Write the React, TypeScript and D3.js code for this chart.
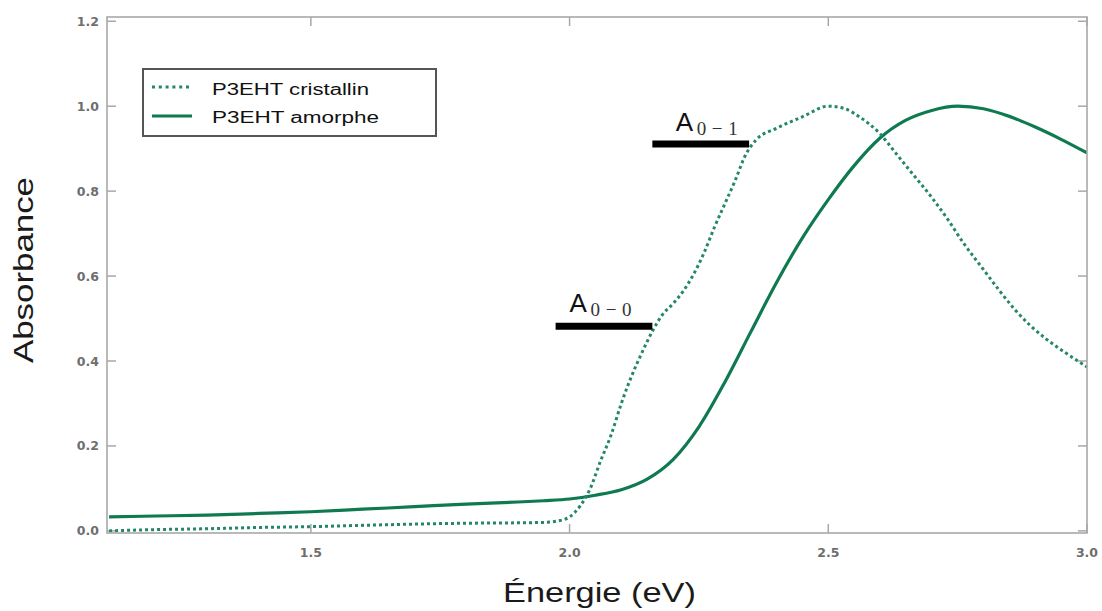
import React from "react";
import * as d3 from "d3";

// Photon energy (eV) and normalised absorbance, P3EHT amorphous film
const amorpheEnergy = [1.11, 1.2, 1.3, 1.4, 1.5, 1.6, 1.7, 1.8, 1.9, 1.95, 2.0, 2.05, 2.1, 2.15, 2.2, 2.25, 2.3, 2.35, 2.4, 2.45, 2.5, 2.55, 2.6, 2.65, 2.7, 2.75, 2.8, 2.85, 2.9, 2.95, 3.0];
const amorpheAbs = [0.033, 0.035, 0.037, 0.041, 0.045, 0.051, 0.057, 0.063, 0.068, 0.071, 0.075, 0.084, 0.097, 0.122, 0.168, 0.245, 0.35, 0.468, 0.585, 0.69, 0.78, 0.86, 0.925, 0.967, 0.99, 1.0, 0.994, 0.976, 0.951, 0.922, 0.89];

// Photon energy (eV) and normalised absorbance, P3EHT crystalline film
const cristallinEnergy = [1.11, 1.2, 1.3, 1.4, 1.5, 1.6, 1.7, 1.8, 1.9, 1.95, 1.98, 2.0, 2.02, 2.04, 2.06, 2.08, 2.1, 2.12, 2.14, 2.16, 2.18, 2.2, 2.22, 2.24, 2.26, 2.28, 2.3, 2.32, 2.34, 2.36, 2.4, 2.45, 2.5, 2.53, 2.56, 2.6, 2.63, 2.66, 2.7, 2.73, 2.76, 2.8, 2.83, 2.86, 2.89, 2.92, 2.96, 3.0];
const cristallinAbs = [0.0, 0.003, 0.005, 0.008, 0.01, 0.013, 0.016, 0.018, 0.019, 0.02, 0.024, 0.033, 0.058, 0.1, 0.165, 0.225, 0.3, 0.365, 0.42, 0.47, 0.51, 0.535, 0.565, 0.605, 0.655, 0.715, 0.77, 0.825, 0.885, 0.92, 0.948, 0.975, 1.0, 0.995, 0.975, 0.935, 0.89, 0.845, 0.785, 0.735, 0.68, 0.615, 0.567, 0.522, 0.484, 0.453, 0.418, 0.386];

const xTicks = [1.5, 2.0, 2.5, 3.0];
const yTicks = [0.0, 0.2, 0.4, 0.6, 0.8, 1.0, 1.2];

const seriesNames = ["P3EHT cristallin", "P3EHT amorphe"];

// Vibronic transition markers: label subscript, bar start/end energy, level
const transitionLabels = ["0\u22120", "0\u22121"];
const transitionStart = [1.973, 2.16];
const transitionEnd = [2.16, 2.347];
const transitionLevel = [0.482, 0.911];
const transitionTextX = [2.0, 2.205];
const transitionTextY = [0.515, 0.941];

const W = 1102;
const H = 611;
const plot = { left: 107, right: 1087, top: 17, bottom: 533 };

const solidColor = "#0f7a4f";
const dottedColor = "#24876a";
const frameColor = "#a8a8a8";
const tickTextColor = "#6e6e6e";

export default function App() {
  const x = d3.scaleLinear().domain([1.106, 3.0]).range([plot.left, plot.right]);
  const y = d3.scaleLinear().domain([-0.005, 1.21]).range([plot.bottom, plot.top]);

  const line = d3
    .line<[number, number]>()
    .x((d) => x(d[0]))
    .y((d) => y(d[1]))
    .curve(d3.curveMonotoneX);

  const amorphe = amorpheEnergy.map((e, i) => [e, amorpheAbs[i]] as [number, number]);
  const cristallin = cristallinEnergy.map((e, i) => [e, cristallinAbs[i]] as [number, number]);

  const tickLen = 9;

  return (
    <svg
      width={W}
      height={H}
      viewBox={`0 0 ${W} ${H}`}
      style={{ position: "absolute", left: 0, top: 0, background: "#fff" }}
    >
      <rect x={0} y={0} width={W} height={H} fill="#fff" />

      <defs>
        <clipPath id="plot-area">
          <rect x={plot.left} y={plot.top} width={plot.right - plot.left} height={plot.bottom - plot.top} />
        </clipPath>
      </defs>

      {/* ticks on all four sides, pointing inward */}
      <g stroke={frameColor} strokeWidth={1.5}>
        {xTicks.map((t) => (
          <g key={`xt${t}`}>
            <line x1={x(t)} x2={x(t)} y1={plot.bottom} y2={plot.bottom - tickLen} />
            <line x1={x(t)} x2={x(t)} y1={plot.top} y2={plot.top + tickLen} />
          </g>
        ))}
        {yTicks.map((t) => (
          <g key={`yt${t}`}>
            <line x1={plot.left} x2={plot.left + tickLen} y1={y(t)} y2={y(t)} />
            <line x1={plot.right} x2={plot.right - tickLen} y1={y(t)} y2={y(t)} />
          </g>
        ))}
      </g>

      {/* curves */}
      <g clipPath="url(#plot-area)" fill="none">
        <path d={line(amorphe) ?? ""} stroke={solidColor} strokeWidth={3.2} strokeLinejoin="round" />
        <path d={line(cristallin) ?? ""} stroke={dottedColor} strokeWidth={3} strokeDasharray="3 3" />
      </g>

      {/* frame */}
      <rect
        x={plot.left}
        y={plot.top}
        width={plot.right - plot.left}
        height={plot.bottom - plot.top}
        fill="none"
        stroke={frameColor}
        strokeWidth={1.6}
      />

      {/* tick labels */}
      <g fontFamily="DejaVu Sans, sans-serif" fontSize={12.5} fontWeight="bold" fill={tickTextColor}>
        {xTicks.map((t) => (
          <text key={`xl${t}`} x={x(t)} y={557} textAnchor="middle">
            {t.toFixed(1)}
          </text>
        ))}
        {yTicks.map((t) => (
          <text key={`yl${t}`} x={99} y={y(t)} dy="0.36em" textAnchor="end">
            {t.toFixed(1)}
          </text>
        ))}
      </g>

      {/* axis titles */}
      <text
        x={503}
        y={602}
        fontFamily="Liberation Sans, Arial, sans-serif"
        fontSize={27}
        fill="#1a1a1a"
        textLength={193}
        lengthAdjust="spacingAndGlyphs"
      >
        Énergie (eV)
      </text>
      <text
        transform={`translate(33, 363) rotate(-90)`}
        fontFamily="Liberation Sans, Arial, sans-serif"
        fontSize={27}
        fill="#1a1a1a"
        textLength={186}
        lengthAdjust="spacingAndGlyphs"
      >
        Absorbance
      </text>

      {/* transition markers */}
      {transitionLabels.map((lab, i) => (
        <g key={lab}>
          <line
            x1={x(transitionStart[i])}
            x2={x(transitionEnd[i])}
            y1={y(transitionLevel[i])}
            y2={y(transitionLevel[i])}
            stroke="#000"
            strokeWidth={7}
          />
          <text
            x={x(transitionTextX[i])}
            y={y(transitionTextY[i])}
            fontFamily="Liberation Sans, Arial, sans-serif"
            fontSize={26}
            fill="#111"
          >
            A
          </text>
          <text
            x={x(transitionTextX[i]) + 21}
            y={y(transitionTextY[i]) + 4}
            fontFamily="Liberation Serif, DejaVu Serif, serif"
            fontSize={19}
            fill="#333"
            textLength={41}
            lengthAdjust="spacing"
          >
            {lab}
          </text>
        </g>
      ))}

      {/* legend */}
      <g>
        <rect x={143} y={69} width={293} height={67} fill="#fff" stroke="#555" strokeWidth={2} />
        <line x1={152} x2={192} y1={87} y2={87} stroke={dottedColor} strokeWidth={3} strokeDasharray="3 3.8" />
        <line x1={152} x2={192} y1={116} y2={116} stroke={solidColor} strokeWidth={3.2} />
        <text
          x={212}
          y={95}
          fontFamily="Liberation Sans, Arial, sans-serif"
          fontSize={16}
          fill="#111"
          textLength={157}
          lengthAdjust="spacingAndGlyphs"
        >
          {seriesNames[0]}
        </text>
        <text
          x={212}
          y={123}
          fontFamily="Liberation Sans, Arial, sans-serif"
          fontSize={16}
          fill="#111"
          textLength={167}
          lengthAdjust="spacingAndGlyphs"
        >
          {seriesNames[1]}
        </text>
      </g>
    </svg>
  );
}
